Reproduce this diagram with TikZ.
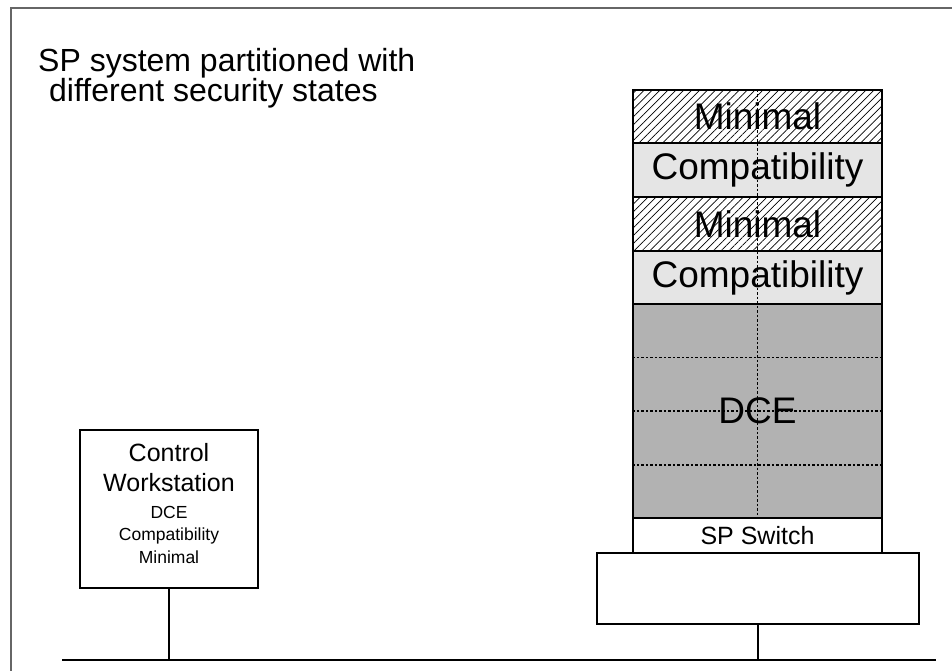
\documentclass[tikz,border=0pt]{standalone}
\usepackage{fontspec}
\setmainfont{Liberation Sans}
\usetikzlibrary{patterns.meta,calc}
\begin{document}
\begin{tikzpicture}[x=1pt,y=-1pt,
  row/.style={draw=black, line width=1.4pt, minimum width=249pt, inner sep=0pt,
    font=\fontsize{37}{40}\selectfont},
  minrow/.style={row, minimum height=53pt, pattern={Lines[angle=45,distance=5.6pt,line width=0.7pt]}},
  comprow/.style={row, minimum height=54pt, fill=black!10},
  plainbox/.style={draw=black, line width=1.6pt, inner sep=0pt},
  wire/.style={draw=black, line width=1.6pt},
  grid/.style={line width=1.3pt, dash pattern=on 2.5pt off 2pt},
]
\useasboundingbox (0,0) rectangle (952,671);
\draw[black!60, line width=1.6pt] (11,671) |- (952,8);

% title
\node[anchor=base west, inner sep=0pt, font=\fontsize{32}{38}\selectfont] (t1) at (38,72) {SP system partitioned with};
\node[anchor=base west, inner sep=0pt, font=\fontsize{32}{38}\selectfont] (t2) at (49,102) {different security states};

% stack
\node[minrow] (m1) at (757.5,116.5) {};
\node[comprow] (c1) at (757.5,170) {};
\node[minrow, minimum height=54pt] (m2) at (757.5,224) {};
\node[comprow, minimum height=53pt] (c2) at (757.5,277.5) {};
\node[row, minimum height=214pt, fill=black!30] (dce) at (757.5,411) {};
\node[row, minimum height=35pt, fill=white, font=\fontsize{25}{30}\selectfont] (sw) at (757.5,535.5) {SP Switch};

% dashed grid in DCE
\foreach \f in {0.25,0.5,0.75}
  \draw[grid] ($(dce.north west)!\f!(dce.south west)$) -- ($(dce.north east)!\f!(dce.south east)$);
\draw[grid] (m1.north) -- (dce.south);

% stack labels
\node[font=\fontsize{37}{40}\selectfont] at (m1.center) {Minimal};
\node[font=\fontsize{37}{40}\selectfont] at (c1.center) {Compatibility};
\node[font=\fontsize{37}{40}\selectfont] at (m2.center) {Minimal};
\node[font=\fontsize{37}{40}\selectfont] at (c2.center) {Compatibility};
\node[font=\fontsize{37}{40}\selectfont] at (dce.center) {DCE};

% base box
\node[plainbox, minimum width=322pt, minimum height=71pt] (base) at (758,588.5) {};

% control workstation
\node[plainbox, minimum width=178pt, minimum height=158pt] (cw) at (169,509) {};
\node[align=center, inner sep=0pt, font=\fontsize{25}{30}\selectfont] (cwa) at (169,468) {Control\\Workstation};
\node[align=center, inner sep=0pt, font=\fontsize{17.5}{22.5}\selectfont] (cwb) at (169,534.5) {DCE\\Compatibility\\Minimal};

% bus
\coordinate (busL) at (62,660);
\coordinate (busR) at (936,660);
\draw[wire, line width=2pt] (busL) -- (busR);
\draw[wire] (cw.south) -- (cw.south |- busL);
\draw[wire] (base.south) -- (base.south |- busL);
\end{tikzpicture}
\end{document}
